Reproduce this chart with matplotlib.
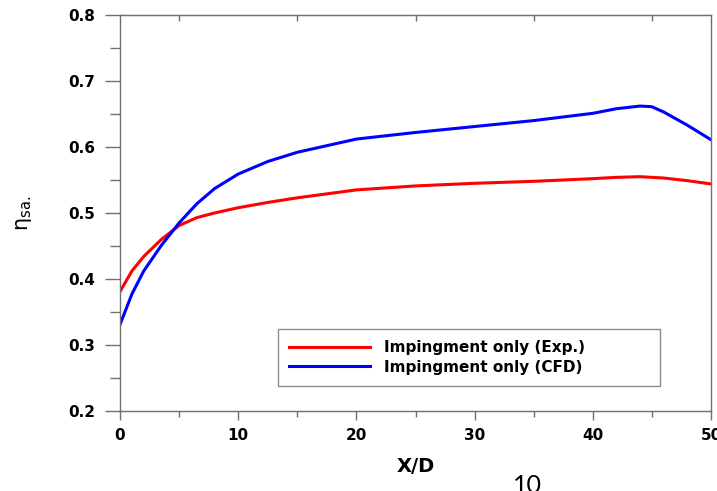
import numpy as np
import matplotlib
matplotlib.use('Agg')
import matplotlib.pyplot as plt
from matplotlib.ticker import MultipleLocator, FixedLocator, NullLocator

plt.rcParams['font.family'] = ['DejaVu Sans']
plt.rcParams['mathtext.fontset'] = 'dejavusans'

# 冲击冷却效率沿 X/D 的分布
xd_exp = [0, 1, 2, 3.5, 5, 6.5, 8, 10, 12.5, 15, 20, 25, 30, 35, 40, 42, 44, 46, 48, 50]
eta_exp = [0.381, 0.412, 0.434, 0.460, 0.481, 0.493, 0.500, 0.508, 0.516, 0.523,
           0.535, 0.541, 0.545, 0.548, 0.552, 0.554, 0.555, 0.553, 0.549, 0.544]

xd_cfd = [0, 1, 2, 3.5, 5, 6.5, 8, 10, 12.5, 15, 20, 25, 30, 35, 40, 42, 44, 45, 46, 48, 50]
eta_cfd = [0.331, 0.377, 0.412, 0.451, 0.485, 0.514, 0.537, 0.559, 0.578, 0.592,
           0.612, 0.622, 0.631, 0.640, 0.651, 0.658, 0.662, 0.661, 0.653, 0.633, 0.611]

labels = ['Impingment only (Exp.)', 'Impingment only (CFD)']

fig = plt.figure(figsize=(7.17, 4.91), dpi=100)
ax = fig.add_axes([0.1674, 0.1629, 0.8242, 0.8066])

ax.plot(xd_exp, eta_exp, color='#ff0000', lw=2.2, label=labels[0])
ax.plot(xd_cfd, eta_cfd, color='#0000ff', lw=2.2, label=labels[1])

ax.set_xlim(0, 50)
ax.set_ylim(0.2, 0.8)
ax.xaxis.set_major_locator(MultipleLocator(10))
ax.xaxis.set_minor_locator(MultipleLocator(5))
ax.yaxis.set_major_locator(MultipleLocator(0.1))
ax.yaxis.set_minor_locator(MultipleLocator(0.05))
ax.yaxis.set_major_formatter(plt.FormatStrFormatter('%.1f'))

gray = '#707070'
for s in ax.spines.values():
    s.set_color(gray)
    s.set_linewidth(1.0)

ax.tick_params(axis='y', which='major', direction='out', length=10.8, width=1, color=gray, pad=7)
ax.tick_params(axis='y', which='minor', direction='out', length=7.2, width=1, color=gray)
ax.tick_params(axis='x', which='major', direction='out', length=6.5, width=1, color=gray, pad=6)
ax.tick_params(axis='x', which='minor', direction='out', length=4, width=1, color=gray)
for lab in ax.get_xticklabels() + ax.get_yticklabels():
    lab.set_fontweight('bold')
    lab.set_fontsize(11)

# 上边框只有向内的小刻度
top = ax.secondary_xaxis('top')
top.xaxis.set_major_locator(NullLocator())
top.xaxis.set_minor_locator(FixedLocator([5, 15, 25, 35, 45]))
top.tick_params(which='minor', direction='in', length=4, width=1, color=gray)
top.spines['top'].set_color(gray)

ax.set_xlabel('X/D', fontsize=14, fontweight='bold', labelpad=10)
ax.set_ylabel('η$_{\\mathregular{sa.}}$', fontsize=15)
ax.yaxis.set_label_coords(-0.146, 0.50)

leg = ax.legend(loc='lower left', bbox_to_anchor=(0.267, 0.063, 0.647, 0.14),
                mode='expand', borderaxespad=0,
                prop={'weight': 'bold', 'size': 11}, handlelength=5.3,
                handletextpad=0.9, fancybox=False, frameon=True,
                borderpad=0.75, labelspacing=0.3)
leg.get_frame().set_edgecolor(gray)
leg.get_frame().set_linewidth(1.0)

fig.text(0.735, -0.004, '10', fontsize=18, family=['Lato', 'DejaVu Sans'],
         ha='center', va='baseline')

fig.savefig('out.png', dpi=100)
